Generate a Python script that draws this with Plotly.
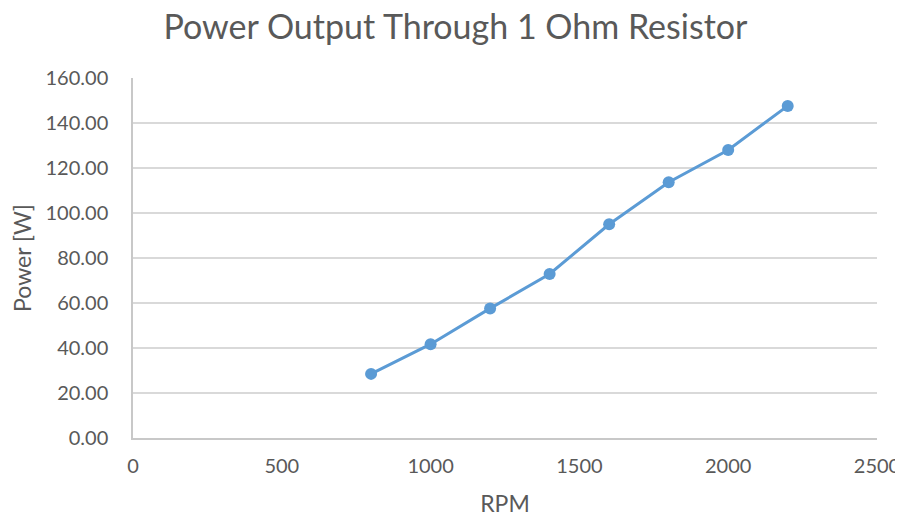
import plotly.graph_objects as go

rpm = [800, 1000, 1200, 1400, 1600, 1800, 2000, 2200]
power = [28.5, 41.7, 57.6, 72.9, 95.0, 113.7, 128.0, 147.6]

x_ticks = [0, 500, 1000, 1500, 2000, 2500]
y_ticks = [0, 20, 40, 60, 80, 100, 120, 140, 160]

font_family = "Lato, Open Sans, sans-serif"
gray = "#595959"

fig = go.Figure()
fig.add_trace(go.Scatter(
    x=rpm, y=power, mode="lines+markers",
    line=dict(color="#5B9BD5", width=3),
    marker=dict(color="#5B9BD5", size=12),
    showlegend=False,
))

fig.update_layout(
    width=895, height=513,
    margin=dict(l=125, r=26, t=70, b=83),
    paper_bgcolor="white", plot_bgcolor="white",
    title=dict(text="Power Output Through 1 Ohm Resistor", x=0.5, xanchor="center",
               y=0.962, yanchor="middle",
               font=dict(family=font_family, size=34, color=gray)),
    xaxis=dict(
        range=[0, 2500], tickvals=x_ticks, ticktext=[str(v) for v in x_ticks],
        showgrid=False, zeroline=False, automargin=False,
        showline=True, linecolor="#c8c8c8", linewidth=1.5,
        ticks="", ticklabelstandoff=9,
        tickfont=dict(family=font_family, size=20, color=gray),
        title=dict(text="RPM", standoff=20, font=dict(family=font_family, size=23, color=gray)),
    ),
    yaxis=dict(
        range=[0, 160], tickvals=y_ticks, ticktext=[f"{v:.2f}" for v in y_ticks],
        showgrid=True, gridcolor="#d9d9d9", gridwidth=1.5, zeroline=False, automargin=False,
        showline=True, linecolor="#c8c8c8", linewidth=1.5,
        ticks="", ticklabelstandoff=19,
        tickfont=dict(family=font_family, size=20, color=gray),
        title=dict(text="Power [W]", standoff=10, font=dict(family=font_family, size=23, color=gray)),
    ),
)

fig.write_html("out.html")
